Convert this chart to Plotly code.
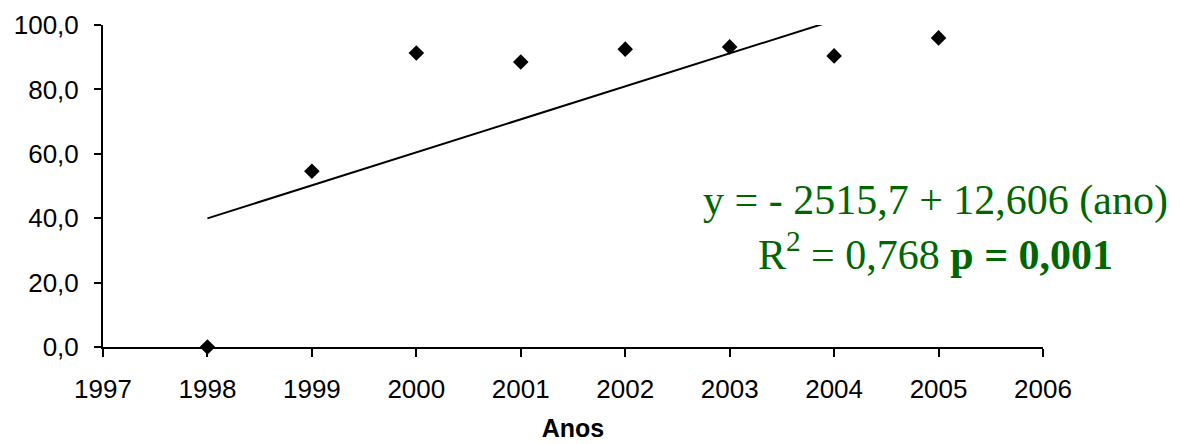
import numpy as np
import plotly.graph_objects as go

anos = [1998, 1999, 2000, 2001, 2002, 2003, 2004, 2005]
valores = [0.0, 54.6, 91.3, 88.5, 92.5, 93.2, 90.4, 96.0]
x_ticks = [1997, 1998, 1999, 2000, 2001, 2002, 2003, 2004, 2005, 2006]
y_ticks = [0, 20, 40, 60, 80, 100]

slope, intercept = np.polyfit(anos, valores, 1)
trend_x = [anos[0], anos[-1]]
trend_y = [intercept + slope * v for v in trend_x]

fig = go.Figure()
fig.add_trace(go.Scatter(x=trend_x, y=trend_y, mode="lines",
                         line=dict(color="black", width=2), showlegend=False,
                         hoverinfo="skip"))
fig.add_trace(go.Scatter(x=anos, y=valores, mode="markers",
                         marker=dict(symbol="diamond", size=12, color="black"),
                         cliponaxis=False, showlegend=False))

fig.add_annotation(xref="paper", yref="paper", x=0.886, y=0.37,
                   text="y = - 2515,7 + 12,606 (ano)<br>R<sup>2</sup> = 0,768 <b>p = 0,001</b>",
                   showarrow=False, align="center", xanchor="center", yanchor="middle",
                   font=dict(family="Liberation Serif, Times New Roman, serif", size=42, color="#006600"))

fig.update_layout(
    width=1180, height=444,
    margin=dict(l=95, r=145, t=17, b=105),
    paper_bgcolor="white", plot_bgcolor="white",
    separators=",.",
    font=dict(family="Liberation Sans, Arial, sans-serif", size=26, color="black"),
    xaxis=dict(range=[1997, 2006], tickvals=x_ticks, showgrid=False, zeroline=False,
               showline=True, linecolor="black", linewidth=2, ticks="outside",
               ticklen=8, tickwidth=2, tickcolor="black", ticklabelstandoff=10,
               automargin=False,
               title=dict(text="<b>Anos</b>", standoff=16, font=dict(size=25))),
    yaxis=dict(range=[0, 100], tickvals=y_ticks, tickformat=".1f", showgrid=False,
               zeroline=False, showline=True, linecolor="black", linewidth=2,
               ticks="outside", ticklen=7, tickwidth=2, tickcolor="black",
               ticklabelstandoff=10, automargin=False),
)

fig.write_html("out.html")
